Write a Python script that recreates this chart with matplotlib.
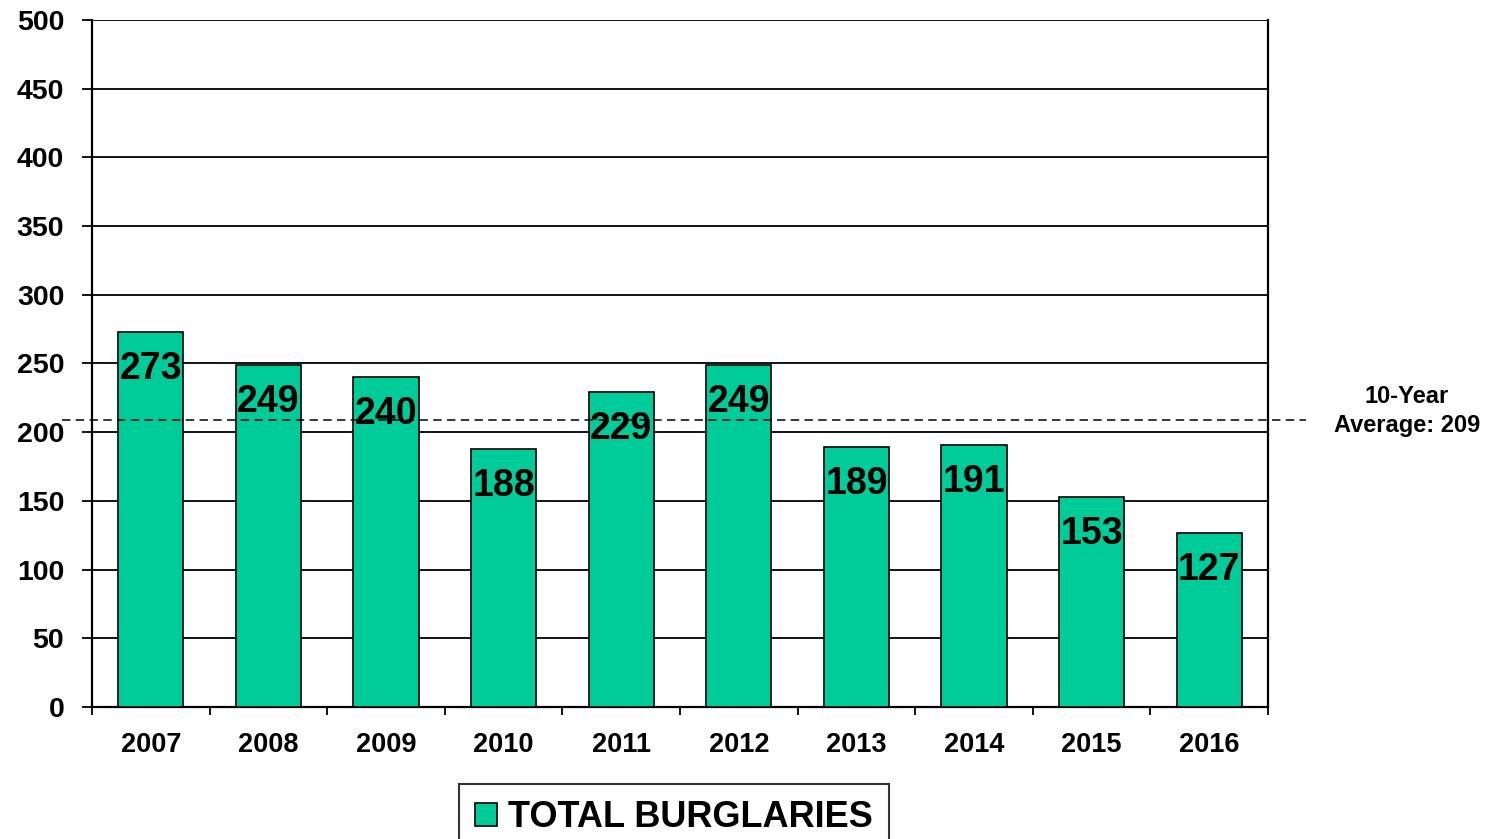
import matplotlib
matplotlib.use("Agg")
import matplotlib.pyplot as plt
import matplotlib.patches as patches
import numpy as np

plt.rcParams["font.family"] = ["Liberation Sans", "DejaVu Sans"]
plt.rcParams["font.weight"] = "bold"

# ---------------- data ----------------
years = ["2007", "2008", "2009", "2010", "2011", "2012", "2013", "2014", "2015", "2016"]
burglaries = [273, 249, 240, 188, 229, 249, 189, 191, 153, 127]
avg_value = 209
series_name = "TOTAL BURGLARIES"
y_ticks = list(range(0, 501, 50))

BAR = "#00CC99"

fig = plt.figure(figsize=(14.92, 8.39), dpi=100)
ax = fig.add_axes([0.0617, 0.1573, 0.7882, 0.8189])

x = np.arange(len(years))
bars = ax.bar(x, burglaries, width=0.555, color=BAR, edgecolor="black",
              linewidth=1.2, zorder=3)

# value labels inside the bar tops
for xi, v in zip(x, burglaries):
    ax.annotate(str(v), xy=(xi, v), xytext=(0, -37), textcoords="offset pixels",
                ha="center", va="center", fontsize=27, weight="bold",
                color="black", zorder=5)

ax.set_xlim(-0.5, len(years) - 0.5)
ax.set_ylim(0, 500)
ax.set_yticks(y_ticks)
ax.set_yticklabels([str(t) for t in y_ticks], fontsize=20.5, weight="bold")
ax.tick_params(axis="y", length=7, width=1.3, pad=13)

# year labels centred, ticks on category boundaries
ax.set_xticks(x)
ax.set_xticklabels(years, fontsize=19.5, weight="bold")
ax.tick_params(axis="x", which="major", length=0, pad=18)
ax.set_xticks(np.arange(-0.5, len(years), 1.0), minor=True)
ax.tick_params(axis="x", which="minor", length=6, width=1.3, direction="out")

ax.yaxis.grid(True, color="black", linewidth=1.3, zorder=0)
ax.set_axisbelow(True)
for s in ["left", "right", "bottom"]:
    ax.spines[s].set_linewidth(1.6)
ax.spines["top"].set_visible(False)

# 10-year average dashed line running past the plot edges
trans = matplotlib.transforms.blended_transform_factory(ax.transAxes, ax.transData)
ax.plot([-0.0255, 1.032], [avg_value, avg_value], transform=trans,
        color="black", linewidth=1.1, linestyle=(0, (5.5, 3.5)),
        clip_on=False, zorder=4)
fig.text(0.943, 0.51, f"10-Year\nAverage: {avg_value}", ha="center", va="center",
         fontsize=17, weight="bold", linespacing=1.3)

# legend at the bottom
handle = patches.Patch(facecolor=BAR, edgecolor="black", linewidth=1.2)
leg = fig.legend([handle], [series_name], loc="upper center",
                 bbox_to_anchor=(0.4517, 0.0656), fontsize=26,
                 frameon=True, fancybox=False, edgecolor="black",
                 handlelength=0.62, handleheight=0.62, handletextpad=0.3,
                 borderpad=0.45, borderaxespad=0)
leg.get_frame().set_linewidth(1.5)
for t in leg.get_texts():
    t.set_weight("bold")

fig.savefig("out.png", dpi=100)
